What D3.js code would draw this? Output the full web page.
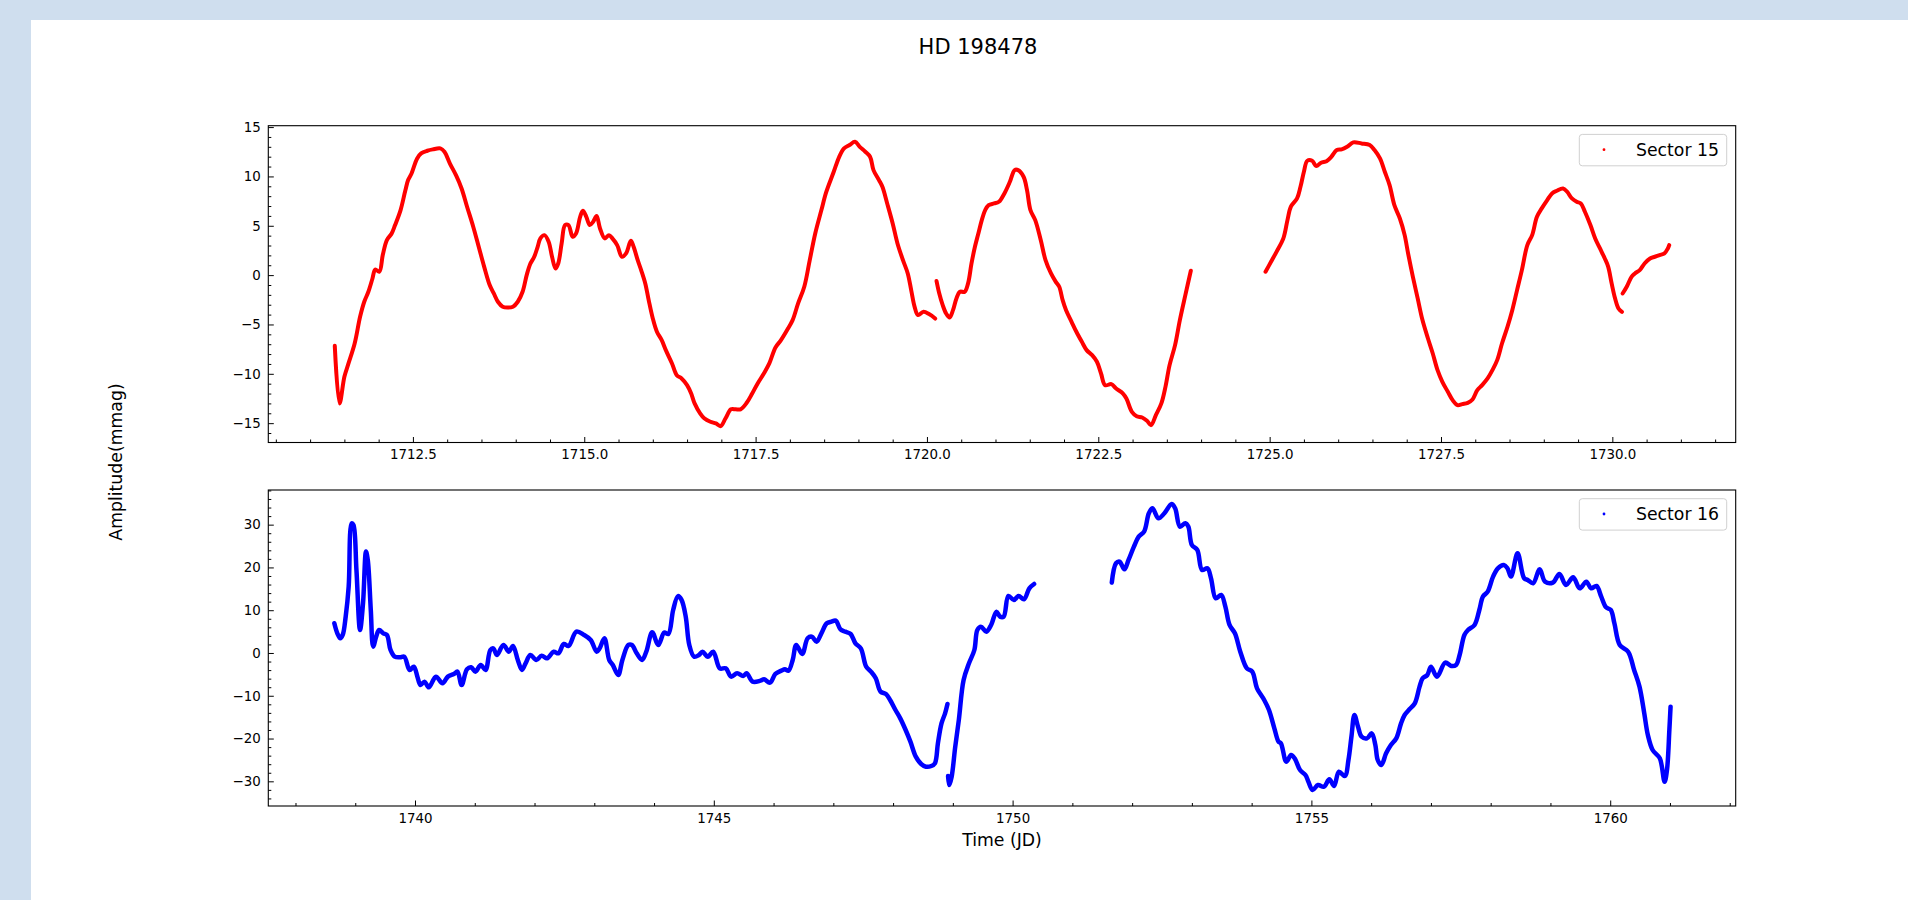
<!DOCTYPE html>
<html>
<head>
<meta charset="utf-8">
<script src="https://cdn.jsdelivr.net/npm/d3@7"></script>
<style>
html,body{margin:0;padding:0;background:#fff;}
svg{display:block;}
text{font-family:"DejaVu Sans",sans-serif;}
</style>
</head>
<body>
<script>
// ---------------- DATA ----------------
const title = "HD 198478";
const yLabel = "Amplitude(mmag)";
const xLabel = "Time (JD)";
const seriesNames = ["Sector 15", "Sector 16"];

// Sector 15 : time (JD) / amplitude (mmag); null marks a gap in the data
const s15Time = [
 1711.36,1711.43,1711.50,1711.56,1711.65,1711.73,1711.79,1711.85,1711.91,1711.95,
 1712.01,1712.06,1712.12,1712.19,1712.24,1712.32,1712.39,1712.43,1712.48,1712.56,
 1712.62,1712.71,1712.79,1712.90,1712.96,1713.04,1713.13,1713.21,1713.29,1713.38,
 1713.46,1713.54,1713.62,1713.68,1713.74,1713.81,1713.88,1713.96,1714.03,1714.10,
 1714.16,1714.21,1714.27,1714.32,1714.36,1714.42,1714.48,1714.53,1714.58,1714.62,
 1714.67,1714.72,1714.77,1714.83,1714.88,1714.94,1714.98,1715.03,1715.08,1715.13,
 1715.18,1715.23,1715.30,1715.36,1715.41,1715.48,1715.55,1715.61,1715.68,1715.72,
 1715.78,1715.83,1715.89,1715.94,1716.00,1716.06,1716.13,1716.19,1716.28,1716.35,
 1716.42,1716.50,1716.56,1716.61,1716.69,1716.75,1716.84,1716.92,1716.99,1717.06,
 1717.14,1717.21,1717.28,1717.37,1717.45,1717.53,1717.62,1717.70,1717.79,1717.87,
 1717.96,1718.04,1718.12,1718.21,1718.29,1718.37,1718.46,1718.53,1718.64,1718.72,
 1718.79,1718.87,1718.95,1719.02,1719.10,1719.17,1719.22,1719.30,1719.35,1719.42,
 1719.50,1719.57,1719.65,1719.72,1719.77,1719.82,1719.87,1719.95,1720.03,1720.12,
 null,
 1720.14,1720.18,1720.23,1720.28,1720.33,1720.38,1720.43,1720.48,1720.55,1720.60,
 1720.65,1720.70,1720.75,1720.80,1720.85,1720.90,1720.98,1721.05,1721.13,1721.21,
 1721.28,1721.33,1721.41,1721.46,1721.51,1721.58,1721.66,1721.73,1721.81,1721.88,
 1721.93,1721.98,1722.03,1722.11,1722.18,1722.26,1722.33,1722.41,1722.48,1722.54,
 1722.60,1722.69,1722.76,1722.86,1722.91,1722.99,1723.06,1723.14,1723.21,1723.27,
 1723.34,1723.42,1723.48,1723.54,1723.62,1723.69,1723.77,1723.85,
 null,
 1724.94,1725.02,1725.10,1725.20,1725.26,1725.31,1725.40,1725.45,1725.50,1725.55,
 1725.62,1725.68,1725.75,1725.83,1725.90,1725.98,1726.05,1726.13,1726.22,1726.34,
 1726.46,1726.53,1726.61,1726.68,1726.75,1726.82,1726.90,1726.97,1727.02,1727.09,
 1727.16,1727.23,1727.31,1727.38,1727.45,1727.52,1727.60,1727.67,1727.74,1727.81,
 1727.89,1727.96,1728.03,1728.10,1728.18,1728.25,1728.32,1728.39,1728.47,1728.54,
 1728.61,1728.68,1728.76,1728.83,1728.90,1728.97,1729.05,1729.12,1729.19,1729.28,
 1729.34,1729.41,1729.48,1729.54,1729.60,1729.68,1729.75,1729.82,1729.89,1729.94,
 1729.99,1730.04,1730.09,1730.14,
 null,
 1730.15,1730.21,1730.28,1730.33,1730.40,1730.47,1730.55,1730.62,1730.69,1730.76,
 1730.81,1730.83
];
const s15Amp = [
 -7.16,-13.0,-10.3,-8.95,-6.93,-4.2,-2.7,-1.69,-0.34,0.57,
 0.34,2.03,3.55,4.22,5.07,6.59,8.6,9.63,10.3,11.8,
 12.33,12.6,12.74,12.84,12.5,11.3,10.1,8.78,6.93,4.9,
 2.87,0.84,-1.01,-1.86,-2.7,-3.2,-3.28,-3.2,-2.7,-1.69,
 0.0,1.11,1.86,2.87,3.72,4.05,3.38,1.86,0.68,1.18,
 3.21,5.07,5.07,3.89,4.22,5.91,6.52,5.91,5.07,5.41,
 5.98,4.73,3.72,4.05,3.72,3.04,1.86,2.2,3.48,2.87,
 1.52,0.51,-0.84,-2.53,-4.39,-5.74,-6.59,-7.6,-8.95,-10.14,
 -10.47,-11.15,-12.0,-13.0,-14.0,-14.5,-14.86,-15.03,-15.3,-14.53,
 -13.6,-13.6,-13.6,-12.94,-12.0,-10.98,-9.97,-8.95,-7.33,-6.59,
 -5.57,-4.56,-2.87,-1.18,1.52,4.22,6.59,8.4,10.47,11.99,
 12.84,13.18,13.51,13.0,12.5,12.0,10.64,9.63,8.95,7.26,
 5.24,3.21,1.52,0.17,-1.52,-3.21,-4.05,-3.72,-3.95,-4.4,
 null,
 -0.6,-1.86,-3.04,-3.89,-4.29,-3.55,-2.36,-1.69,-1.69,-0.84,
 1.18,2.87,4.22,5.57,6.59,7.09,7.26,7.43,8.28,9.46,
 10.64,10.64,9.97,8.61,6.59,5.57,3.55,1.52,0.17,-0.68,
 -1.18,-2.53,-3.55,-4.73,-5.74,-6.76,-7.6,-8.11,-8.78,-9.97,
 -11.15,-11.05,-11.49,-12.0,-12.5,-13.85,-14.29,-14.43,-14.76,-15.2,
 -14.19,-13.0,-11.32,-9.12,-7.09,-4.56,-2.03,0.44,
 null,
 0.34,1.35,2.36,3.72,5.57,6.93,7.77,8.95,10.47,11.59,
 11.59,11.05,11.39,11.55,11.99,12.67,12.74,13.0,13.45,13.34,
 13.18,12.67,11.82,10.47,9.12,7.09,5.74,4.05,2.2,-0.17,
 -2.36,-4.56,-6.42,-7.94,-9.63,-10.81,-11.82,-12.67,-13.18,-13.07,
 -12.94,-12.6,-11.66,-11.15,-10.47,-9.63,-8.61,-6.93,-5.24,-3.55,
 -1.52,0.51,3.04,4.05,5.91,6.76,7.6,8.28,8.55,8.78,
 8.45,7.77,7.43,7.26,6.42,5.07,3.72,2.7,1.69,0.84,
 -0.84,-2.36,-3.38,-3.72,
 null,
 -1.86,-1.18,-0.17,0.17,0.51,1.18,1.69,1.86,2.03,2.2,
 2.7,3.04
];

// Sector 16 : time (JD) / amplitude (mmag); null marks a gap in the data
const s16Time = [
 1738.65,1738.70,1738.75,1738.79,1738.84,1738.89,1738.94,1738.97,1739.02,1739.08,
 1739.13,1739.18,1739.21,1739.26,1739.30,1739.35,1739.40,1739.47,1739.53,1739.59,
 1739.66,1739.75,1739.82,1739.91,1739.98,1740.04,1740.09,1740.16,1740.23,1740.35,
 1740.46,1740.55,1740.65,1740.71,1740.78,1740.87,1740.94,1741.01,1741.10,1741.18,
 1741.26,1741.31,1741.37,1741.48,1741.57,1741.64,1741.72,1741.79,1741.85,1741.93,
 1742.03,1742.12,1742.21,1742.32,1742.40,1742.49,1742.57,1742.70,1742.83,1742.94,
 1743.04,1743.09,1743.17,1743.25,1743.31,1743.40,1743.47,1743.57,1743.63,1743.71,
 1743.80,1743.87,1743.97,1744.07,1744.17,1744.24,1744.32,1744.40,1744.46,1744.53,
 1744.59,1744.67,1744.75,1744.81,1744.90,1744.99,1745.10,1745.20,1745.29,1745.39,
 1745.49,1745.55,1745.65,1745.78,1745.84,1745.94,1746.03,1746.13,1746.19,1746.25,
 1746.32,1746.38,1746.48,1746.57,1746.64,1746.72,1746.80,1746.89,1746.97,1747.04,
 1747.12,1747.20,1747.29,1747.37,1747.46,1747.55,1747.63,1747.71,1747.79,1747.88,
 1747.95,1748.04,1748.12,1748.21,1748.29,1748.38,1748.47,1748.55,1748.64,1748.70,
 1748.75,1748.81,1748.87,1748.91,
 null,
 1748.92,1748.94,1748.98,1749.04,1749.10,1749.18,1749.27,1749.36,1749.41,1749.47,
 1749.56,1749.64,1749.73,1749.79,1749.85,1749.93,1750.02,1750.10,1750.19,1750.28,
 1750.36,
 null,
 1751.66,1751.73,1751.79,1751.87,1751.94,1752.03,1752.11,1752.20,1752.28,1752.34,
 1752.44,1752.54,1752.66,1752.72,1752.80,1752.89,1752.94,1753.00,1753.09,1753.17,
 1753.26,1753.32,1753.40,1753.49,1753.56,1753.63,1753.72,1753.81,1753.92,1754.01,
 1754.09,1754.21,1754.29,1754.38,1754.45,1754.49,1754.58,1754.66,1754.72,1754.81,
 1754.90,1754.95,1755.02,1755.11,1755.21,1755.30,1755.38,1755.46,1755.56,1755.62,
 1755.67,1755.72,1755.78,1755.84,1755.93,1756.01,1756.07,1756.11,1756.17,1756.25,
 1756.33,1756.42,1756.50,1756.56,1756.64,1756.73,1756.81,1756.86,1756.94,1757.00,
 1757.10,1757.24,1757.34,1757.42,1757.48,1757.56,1757.62,1757.73,1757.81,1757.87,
 1757.95,1758.04,1758.12,1758.22,1758.28,1758.34,1758.45,1758.56,1758.62,1758.71,
 1758.82,1758.91,1759.04,1759.15,1759.26,1759.38,1759.49,1759.60,1759.68,1759.77,
 1759.85,1759.93,1760.01,1760.07,1760.16,1760.30,1760.40,1760.49,1760.57,1760.63,
 1760.71,1760.83,1760.91,1760.95,1760.99,1761.01
];
const s16Amp = [
 6.94,4.6,3.43,4.21,8.5,15.5,30.3,29.9,19.4,5.38,
 11.6,23.7,21.7,10.05,1.48,3.82,5.38,4.6,4.21,0.7,
 -0.86,-1.01,-0.86,-3.97,-3.2,-5.53,-7.48,-6.7,-8.03,-5.53,
 -7.09,-5.53,-4.91,-4.36,-7.48,-3.82,-3.35,-4.36,-2.81,-3.97,
 0.7,1.09,-0.47,1.87,0.31,1.64,-1.64,-3.97,-2.42,-0.47,
 -1.64,-0.62,-1.25,0.31,-0.08,2.1,1.64,4.99,4.21,3.04,
 0.31,1.09,3.43,-1.64,-2.81,-5.14,-1.64,1.87,1.87,-0.08,
 -1.64,0.31,4.83,1.87,4.75,4.44,10.05,13.3,12.4,8.5,
 1.87,-0.86,-0.47,0.31,-0.86,0.31,-3.59,-3.59,-5.53,-4.75,
 -5.38,-4.75,-6.7,-6.47,-6.16,-6.94,-4.91,-4.13,-3.82,-4.13,
 -1.64,1.87,-0.23,3.43,3.82,2.65,4.6,6.94,7.33,7.56,
 5.53,4.99,4.44,2.26,1.09,-3.2,-4.36,-5.92,-9.04,-9.59,
 -10.99,-13.33,-15.28,-18.0,-20.73,-24.24,-25.95,-26.58,-26.42,-25.8,
 -21.12,-16.45,-14.11,-11.93,
 null,
 -28.76,-30.87,-28.92,-21.9,-15.67,-6.31,-2.42,0.7,5.38,6.16,
 4.99,6.55,9.66,8.5,8.5,13.33,12.39,13.33,12.55,15.12,
 16.13,
 null,
 16.45,20.97,21.36,19.56,21.75,24.86,27.2,28.37,32.66,33.83,
 31.49,32.66,34.84,33.83,29.54,30.32,29.54,25.25,24.08,19.41,
 19.8,17.46,12.78,13.56,10.83,6.55,4.6,0.31,-3.59,-4.36,
 -8.26,-10.99,-13.33,-17.61,-20.73,-21.12,-25.41,-23.85,-24.63,-27.36,
 -28.53,-30.09,-32.03,-30.87,-31.26,-29.54,-31.1,-27.75,-28.76,-25.02,
 -19.56,-14.5,-17.23,-19.56,-19.95,-18.78,-21.51,-25.02,-26.19,-23.46,
 -21.51,-19.95,-16.45,-14.5,-13.17,-11.77,-7.87,-5.92,-5.14,-3.2,
 -5.53,-2.26,-3.04,-2.81,-0.47,4.21,5.38,6.55,10.05,13.17,
 14.34,17.85,19.8,20.58,19.8,17.85,23.3,17.46,17.07,16.29,
 19.56,16.68,16.45,18.47,15.9,17.69,15.12,16.68,15.12,15.67,
 13.17,10.68,10.05,6.94,1.87,0.31,-3.97,-7.87,-14.11,-19.17,
 -22.68,-24.63,-30.09,-27.36,-18.0,-12.55
];

// tick values
const topXTicks = [1712.5,1715.0,1717.5,1720.0,1722.5,1725.0,1727.5,1730.0];
const topYTicks = [-15,-10,-5,0,5,10,15];
const botXTicks = [1740,1745,1750,1755,1760];
const botYTicks = [-30,-20,-10,0,10,20,30];

// ---------------- LAYOUT ----------------
const W = 1908, H = 900;
const svg = d3.select("body").append("svg").attr("width", W).attr("height", H);

svg.append("rect").attr("width", W).attr("height", H).attr("fill", "#cfdeee");
svg.append("rect").attr("x", 31).attr("y", 20).attr("width", W - 31).attr("height", H - 20).attr("fill", "#ffffff");

const axL = 268.3, axR = 1735.7;
const panels = [
  {top: 125.7, bottom: 442.5, xd: [1710.39, 1731.80], yd: [-16.96, 15.14],
   xt: topXTicks, yt: topYTicks, xMinorStep: 0.5, yMinorStep: 1, fmt: d3.format(".1f"),
   time: s15Time, amp: s15Amp, color: "#ff0000", name: seriesNames[0], sw: 4},
  {top: 490, bottom: 806, xd: [1737.545, 1762.10], yd: [-35.77, 38.1],
   xt: botXTicks, yt: botYTicks, xMinorStep: 1, yMinorStep: 2, fmt: d3.format("d"),
   time: s16Time, amp: s16Amp, color: "#0000ff", name: seriesNames[1], sw: 4.5}
];

// minor tick positions inside a domain (tick layout, not data)
function minorTicks(dom, step, majors) {
  const out = [];
  const start = Math.ceil(dom[0] / step - 1e-9);
  const end = Math.floor(dom[1] / step + 1e-9);
  for (let i = start; i <= end; i++) {
    const v = +(i * step).toFixed(4);
    if (!majors.some(t => Math.abs(t - v) < 1e-6)) out.push(v);
  }
  return out;
}

panels.forEach(p => {
  const x = d3.scaleLinear().domain(p.xd).range([axL, axR]);
  const y = d3.scaleLinear().domain(p.yd).range([p.bottom, p.top]);
  const g = svg.append("g");

  // data
  const pts = p.time.map((t, i) => ({t: t, v: p.amp[i]}));
  const line = d3.line()
    .defined(d => d.t != null && d.v != null)
    .x(d => x(d.t)).y(d => y(d.v))
    .curve(d3.curveCatmullRom.alpha(0.5));
  g.append("path").datum(pts)
    .attr("d", line)
    .attr("fill", "none")
    .attr("stroke", p.color)
    .attr("stroke-width", p.sw)
    .attr("stroke-linejoin", "round")
    .attr("stroke-linecap", "round");

  // minor ticks
  const xMin = minorTicks(p.xd, p.xMinorStep, p.xt);
  const yMin = minorTicks(p.yd, p.yMinorStep, p.yt);

  const xMinorAxis = g.append("g").attr("transform", `translate(0,${p.bottom})`)
    .call(d3.axisBottom(x).tickValues(xMin).tickSizeInner(-3).tickSizeOuter(0).tickFormat(""));
  const yMinorAxis = g.append("g").attr("transform", `translate(${axL},0)`)
    .call(d3.axisLeft(y).tickValues(yMin).tickSizeInner(-3).tickSizeOuter(0).tickFormat(""));

  // major ticks
  const xAxis = g.append("g").attr("transform", `translate(0,${p.bottom})`)
    .call(d3.axisBottom(x).tickValues(p.xt).tickSizeInner(-5.5).tickSizeOuter(0).tickPadding(7).tickFormat(p.fmt));
  const yAxis = g.append("g").attr("transform", `translate(${axL},0)`)
    .call(d3.axisLeft(y).tickValues(p.yt).tickSizeInner(-5.5).tickSizeOuter(0).tickPadding(7.5).tickFormat(d3.format("d")));

  [xMinorAxis, yMinorAxis, xAxis, yAxis].forEach(a => {
    a.select(".domain").remove();
    a.selectAll("line").attr("stroke", "#000").attr("stroke-width", 1);
    a.selectAll("text").attr("font-family", "DejaVu Sans").attr("font-size", 13.4).attr("fill", "#000");
  });

  // frame
  g.append("rect").attr("x", axL).attr("y", p.top)
    .attr("width", axR - axL).attr("height", p.bottom - p.top)
    .attr("fill", "none").attr("stroke", "#000").attr("stroke-width", 1.1);

  // legend
  const lg = g.append("g").attr("transform", `translate(${axR - 156.4},${p.top + 8.7})`);
  lg.append("rect").attr("x", 0).attr("y", 0).attr("width", 147.4).attr("height", 31.4)
    .attr("rx", 3).attr("ry", 3)
    .attr("fill", "#ffffff").attr("fill-opacity", 0.8)
    .attr("stroke", "#d0d0d0").attr("stroke-width", 1);
  lg.append("circle").attr("cx", 24.7).attr("cy", 15.3).attr("r", 1.4).attr("fill", p.color);
  lg.append("text").attr("x", 56.7).attr("y", 15.3).attr("dy", "0.35em")
    .attr("font-size", 17.3).attr("fill", "#000").text(p.name);
});

// title and axis labels
svg.append("text").attr("x", 978).attr("y", 46).attr("dy", "0.36em")
  .attr("text-anchor", "middle").attr("font-size", 21).attr("fill", "#000").text(title);
svg.append("text").attr("x", 1002).attr("y", 840).attr("dy", "0.36em")
  .attr("text-anchor", "middle").attr("font-size", 17.3).attr("fill", "#000").text(xLabel);
svg.append("text").attr("transform", "translate(115.5,462) rotate(-90)").attr("dy", "0.36em")
  .attr("text-anchor", "middle").attr("font-size", 17.3).attr("fill", "#000").text(yLabel);
</script>
</body>
</html>
